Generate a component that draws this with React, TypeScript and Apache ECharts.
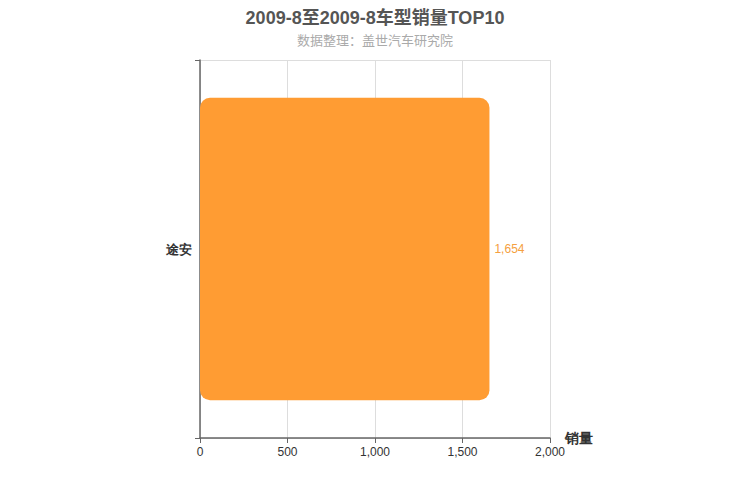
import React, { useEffect, useRef } from "react";
import * as echarts from "echarts";

const titleText = "2009-8至2009-8车型销量TOP10";
const subtitleText = "数据整理：盖世汽车研究院";
const categories = ["途安"];
const salesValues = [1654];
const xTicks = { min: 0, max: 2000, interval: 500 };

const latin = "Liberation Sans, Arial, Noto Sans CJK SC, sans-serif";

export default function App() {
  const ref = useRef<HTMLDivElement>(null);
  useEffect(() => {
    if (!ref.current) return;
    const chart = echarts.init(ref.current, undefined, { renderer: "svg" });
    chart.setOption({
      animation: false,
      title: {
        text: titleText,
        subtext: subtitleText,
        left: "center",
        top: -4,
        itemGap: 6,
        textStyle: { fontSize: 18, fontWeight: "bold", color: "#555", fontFamily: latin },
        subtextStyle: { fontSize: 13, color: "#aaa", fontFamily: "Noto Sans CJK SC, sans-serif" },
      },
      grid: { left: 192, right: 192, top: 52, bottom: 54, containLabel: false },
      xAxis: {
        type: "value",
        min: xTicks.min,
        max: xTicks.max,
        interval: xTicks.interval,
        name: "销量",
        nameLocation: "end",
        nameGap: 15,
        nameTextStyle: { fontSize: 14, fontWeight: "bold", color: "#333", verticalAlign: "middle" },
        axisLine: { show: true, lineStyle: { color: "#666", width: 1.5 } },
        axisTick: { show: true, length: 5, lineStyle: { color: "#666" } },
        axisLabel: {
          color: "#333",
          fontSize: 12,
          margin: 8,
          fontFamily: latin,
          formatter: (v: number) => v.toLocaleString("en-US"),
        },
        splitLine: { show: true, lineStyle: { color: "#ddd" } },
      },
      yAxis: {
        type: "category",
        data: categories,
        axisLine: { show: true, lineStyle: { color: "#666", width: 1.5 } },
        axisTick: { show: true, length: 5, lineStyle: { color: "#666" } },
        axisLabel: { color: "#333", fontSize: 13, fontWeight: "bold", margin: 8 },
        splitLine: { show: true, lineStyle: { color: "#ddd" } },
      },
      series: [
        {
          type: "bar",
          data: salesValues,
          barWidth: "80%",
          itemStyle: { color: "#ff9c33", borderRadius: 10 },
          label: {
            show: true,
            position: "right",
            color: "#f5a040",
            fontSize: 12,
            fontFamily: latin,
            formatter: (p: any) => Number(p.value).toLocaleString("en-US"),
          },
        },
      ],
    });
    return () => chart.dispose();
  }, []);
  return <div ref={ref} style={{ width: 734, height: 484 }} />;
}
